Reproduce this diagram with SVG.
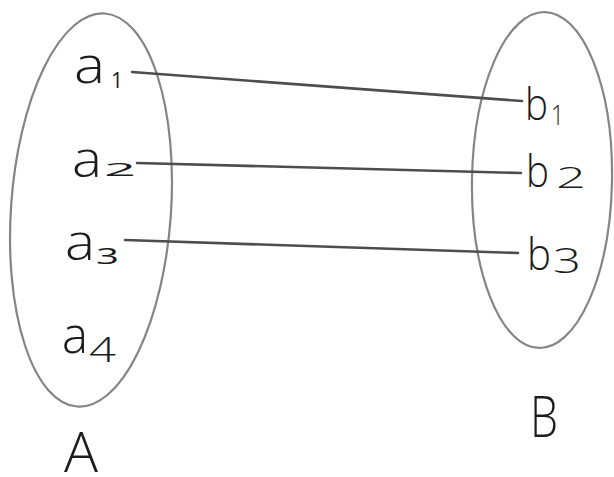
<svg xmlns="http://www.w3.org/2000/svg" width="614" height="477" viewBox="0 0 614 477">
  <style>
    .set { fill: none; stroke: #858585; stroke-width: 2.2; }
    .map { stroke: #4d4d4d; stroke-width: 2.6; stroke-linecap: round; fill: none; }
    .t { font-family: "Open Sans", "DejaVu Sans", sans-serif; font-weight: 300; fill: #1c1c1c; }
    .d { font-weight: 400; }
  </style>
  <rect width="614" height="477" fill="#ffffff"/>

  <!-- set A -->
  <g id="set-A">
    <ellipse class="set" cx="91" cy="210" rx="80" ry="197" transform="rotate(4 91 210)"/>
    <text class="t" x="64" y="472" font-size="56" textLength="34" lengthAdjust="spacingAndGlyphs">A</text>
  </g>

  <!-- set B -->
  <g id="set-B">
    <ellipse class="set" cx="542" cy="180" rx="70" ry="168" transform="rotate(1 542 180)"/>
    <text class="t" x="530" y="437" font-size="57" textLength="28" lengthAdjust="spacingAndGlyphs">B</text>
  </g>

  <!-- mapping lines a_i -> b_i -->
  <g id="connectors">
    <line class="map" x1="132" y1="72" x2="522" y2="101"/>
    <line class="map" x1="137" y1="163" x2="521" y2="173"/>
    <line class="map" x1="125" y1="240" x2="518" y2="253"/>
  </g>

  <!-- elements of A -->
  <g id="a1">
    <text class="t" x="74" y="83" font-size="52" textLength="31" lengthAdjust="spacingAndGlyphs">a</text>
    <text class="t d" x="111" y="88" font-size="22" textLength="12" lengthAdjust="spacingAndGlyphs">1</text>
  </g>
  <g id="a2">
    <text class="t" x="72" y="177" font-size="50" textLength="30" lengthAdjust="spacingAndGlyphs">a</text>
    <text class="t d" x="104" y="176" font-size="19" textLength="32" lengthAdjust="spacingAndGlyphs">2</text>
  </g>
  <g id="a3">
    <text class="t" x="65" y="260" font-size="50" textLength="30" lengthAdjust="spacingAndGlyphs">a</text>
    <text class="t d" x="96" y="264" font-size="22" textLength="23" lengthAdjust="spacingAndGlyphs">3</text>
  </g>
  <g id="a4">
    <text class="t" x="62" y="353" font-size="52" textLength="26" lengthAdjust="spacingAndGlyphs">a</text>
    <text class="t" x="89" y="362" font-size="34" textLength="27" lengthAdjust="spacingAndGlyphs">4</text>
  </g>

  <!-- elements of B -->
  <g id="b1">
    <text class="t" x="525" y="120" font-size="44" textLength="23" lengthAdjust="spacingAndGlyphs">b</text>
    <text class="t" x="551" y="125" font-size="28" textLength="13" lengthAdjust="spacingAndGlyphs">1</text>
  </g>
  <g id="b2">
    <text class="t" x="526" y="187" font-size="44" textLength="23" lengthAdjust="spacingAndGlyphs">b</text>
    <text class="t" x="556" y="188" font-size="30" textLength="30" lengthAdjust="spacingAndGlyphs">2</text>
  </g>
  <g id="b3">
    <text class="t" x="527" y="270" font-size="44" textLength="24" lengthAdjust="spacingAndGlyphs">b</text>
    <text class="t" x="553" y="273" font-size="34" textLength="28" lengthAdjust="spacingAndGlyphs">3</text>
  </g>
</svg>
